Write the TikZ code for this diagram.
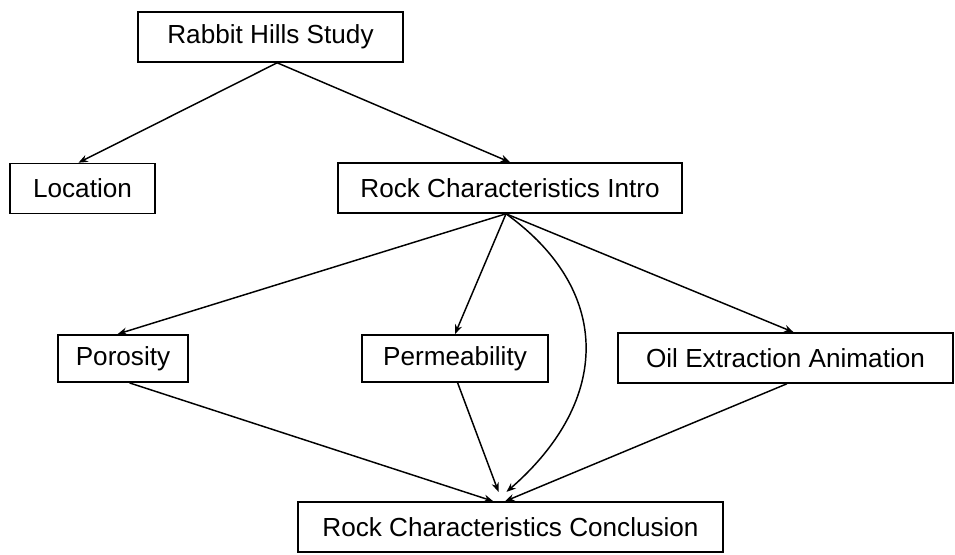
\documentclass[tikz,border=0pt]{standalone}
\usepackage{fontspec}
\setmainfont{Liberation Sans}
\usepackage{tikz}
\usetikzlibrary{shapes,arrows.meta}
\tikzstyle{block} = [rectangle, draw, line width=1.2pt, inner sep=0pt,
    text centered, minimum height=37.5pt, font=\fontsize{19.6}{22}\selectfont]
\tikzstyle{line} = [draw, line width=1.1pt, -{Stealth[length=7pt,width=5.5pt]}]

\begin{document}
\begin{tikzpicture}[x=0.75pt, y=-0.75pt]
	    \useasboundingbox (0,0) rectangle (955,555);
	    % Place nodes
	    \node [block, minimum width=198.75pt] (rabbit) at (270.5,37) {Rabbit Hills Study};
	    \node [block, minimum width=108.75pt] (location) at (82.5,188.5) {Location};
	    \node [block, minimum width=258pt] (intro) at (510,188) {Rock Characteristics Intro};
	    \node [block, minimum width=97.5pt, minimum height=35.5pt] (porosity) at (123,358.5) {Porosity};
	    \node [block, minimum width=139.5pt, minimum height=35.5pt] (perm) at (455,358.5) {Permeability};
	    \node [block, minimum width=251.25pt] (oil) at (785.5,358) {Oil Extraction Animation};
	    \node [block, minimum width=318.75pt] (conclusion) at (510.5,527) {Rock Characteristics Conclusion};
	    % Draw edges
	    \path [line] ([xshift=5pt]rabbit.south) -- ([xshift=-3pt]location.north);
	    \path [line] ([xshift=5pt]rabbit.south) -- (intro.north);
	    \path [line] ([xshift=-3pt]intro.south) -- ([xshift=-4pt]porosity.north);
	    \path [line] ([xshift=-3pt]intro.south) -- (perm.north);
	    \path [line] ([xshift=-3pt]intro.south) -- ([xshift=6pt]oil.north);
	    \path [line] ([xshift=-3pt]intro.south) .. controls (612,290) and (612,400) .. ([xshift=-3pt,yshift=7pt]conclusion.north);
	    \path [line] ([xshift=5pt]porosity.south) -- ([xshift=-13pt]conclusion.north);
	    \path [line] ([xshift=2pt]perm.south) -- ([xshift=-9pt,yshift=7pt]conclusion.north);
	    \path [line] ([xshift=1pt]oil.south) -- ([xshift=-4pt]conclusion.north);
	\end{tikzpicture}
\end{document}
